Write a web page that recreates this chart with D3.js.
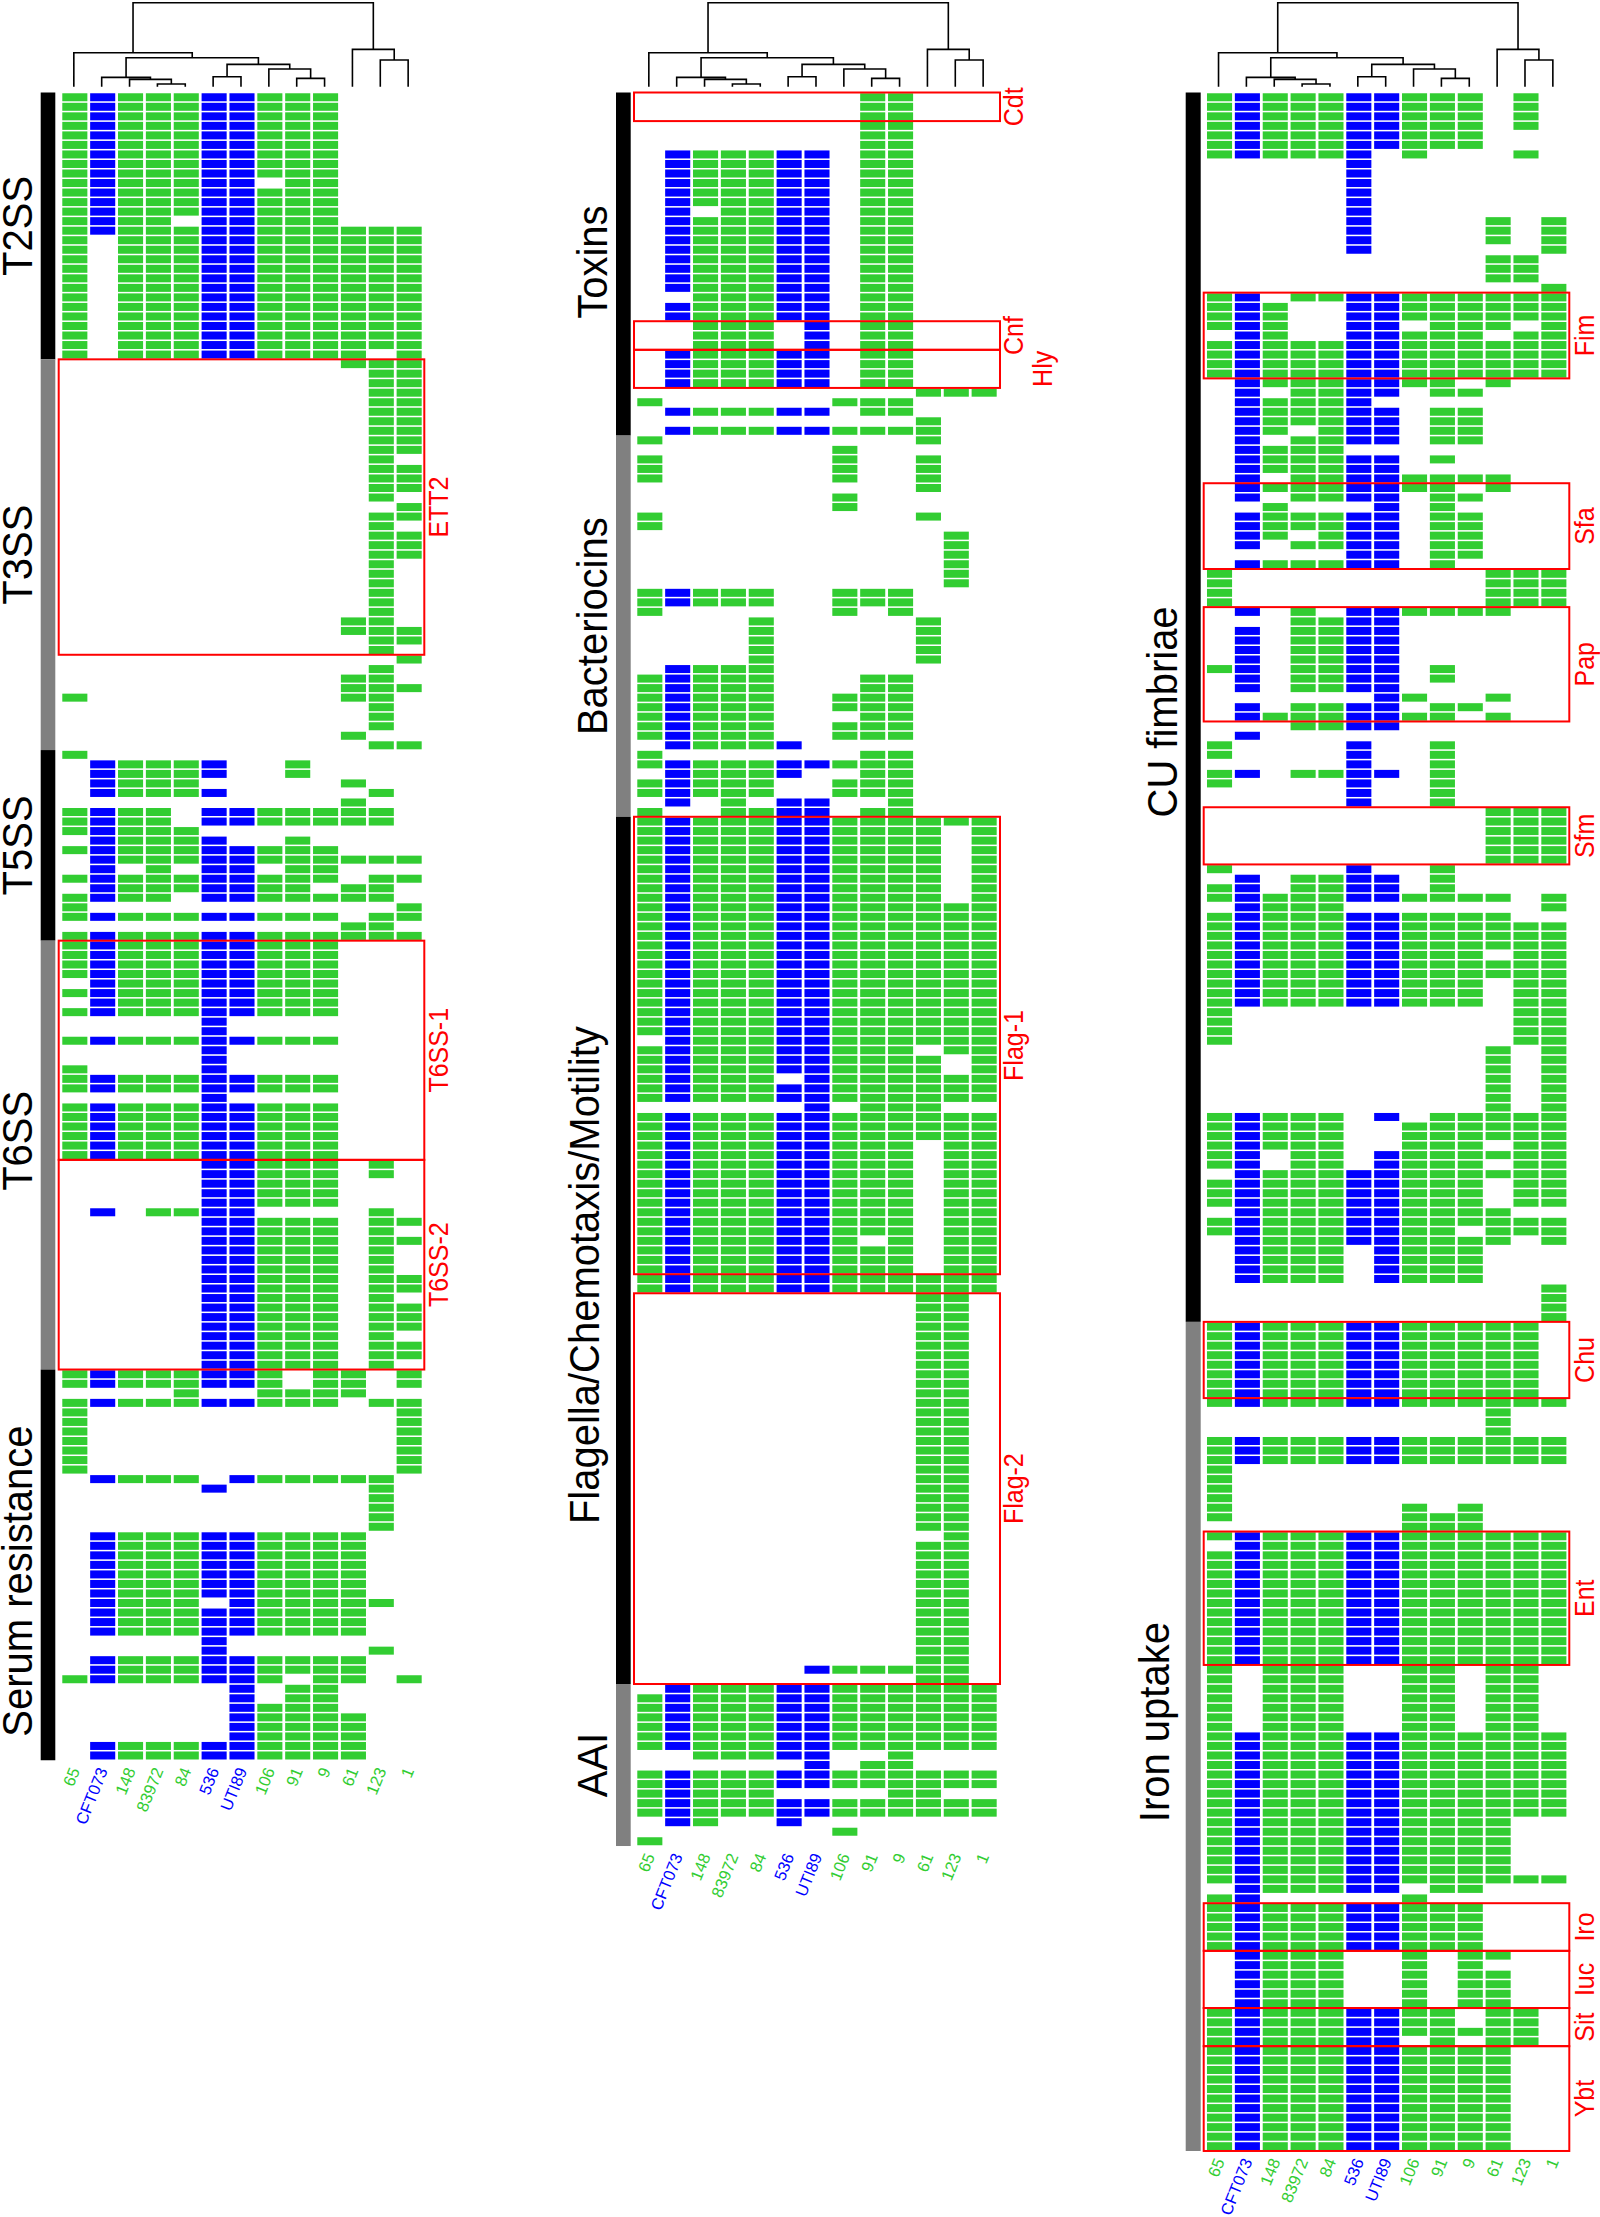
<!DOCTYPE html>
<html>
<head>
<meta charset="utf-8">
<script src="https://cdn.jsdelivr.net/npm/d3@7"></script>
<style>
html,body{margin:0;padding:0;background:#fff}
svg{display:block}
text{font-family:"Liberation Sans",Arial,Helvetica,sans-serif}
</style>
</head>
<body>
<svg id="chart" width="1600" height="2217"></svg>
<script>
// Strains, in dendrogram order. Cell keys: 0-9, a=10, b=11, c=12. "keys*n" = n consecutive identical rows.
const strains = ["65","CFT073","148","83972","84","536","UTI89","106","91","9","61","123","1"];
const highlighted = ["CFT073","536","UTI89"];
const columnKeys = "0123456789abc";

// Presence rows for each panel
const rowsSecretion = [
"0123456789*9","012345689","0123456789*3","012356789","0123456789abc","023456789abc*12","023456789ac","abc","bc*9","b","bc*3","b",
"c","bc","b","bc*3","b*6","ab","abc","bc","b","c","b","ab","abc","0ab","b*3","a","bc","0",
"123458*2","1234a","12345b","a","012356789ab*2","01234","123458","0123456789","123456789abc","135689","0123456789bc","12345678ab","012356789ab","0c","0123456789bc","ab","0123456789abc",
"0123456789*4","123456789","0123456789","123456789","0123456789","5*2","0123456789","5*2","05","0123456789*2","5","0123456789*6",
"56789b*2","56789*3","13456b","56789bc","56789b","56789bc","56789b*3","56789bc*2","56789b","56789bc*3","56789b","56789bc*2","56789b",
"012345679ac*2","4789a","0123456789bc","0c*7","12346789ab","5b","b*4","123456789a*7","12346789ab","123456789a*3","5","5b","123456789a*2","012345679ac","689*2","6789","6789a*3","123456789a*2"
];
const rowsToxins = [
"89*6","12345689*6","1345689","12345689*8","2345689","12345689*2","234689*3","12345689*4","abc","0789","12345689","a","123456789a","0a","7","07a*3","a","7*2","0a","0",
"b*6","01234789*2","079","4a*5","1234","0123489*2","01234789*2","0123489","01234789*2","12345","089","0123456789","1234589","01234789*2","13569","0345689",
"0123456789abc","0123456789ac*8","0123456789abc*14","123456789abc","0123456789bc","0123456789ac*2","012346789abc","0123456789abc*2","689a","0123456789abc*3","0123456789bc*10","012345679bc","0123456789bc*3","0123456789abc*2",
"ab*25","b","ab*13","6789ab","ab","123456789abc","0123456789abc*6","234569","689","0123456789abc*2","012349a","0123456789abc*2","125","7","0"
];
const rowsAdhesion = [
"0123456789b*4","0123456789*2","0123457b","5*6","5ac*3","5c","ab*3","c","013456789abc","01256789abc*2","0125689ac","1256789bc","0123456789abc*4","12345678a","1345689","12345","12345689*2","1245689","1345689","1234","1234568","123456","13456789a",
"12345678a","1345689","268","12345689*2","1245689","1345689","5689","1234568","0abc*4","1356789a","3456","13456*4","0134568","134568","13456","67a","1345689","12345678a","3456","1","058*2","58","0134568","058","58*2","abc*6","058","134568","0134568","0123456789ac","1234c","0123456789a","0123456789abc*3","0123456789bc",
"0123456789abc*2","0123456789bc*3","0bc*4","ac*7","01234689abc","01234789abc*2","01234789bc","01346789abc","01346789bc","123456789abc","0123456789bc*3","123456789a","0123456789abc","012345678abc","123456789ac","12346789*4","c*4",
"0123456789ab*8","0123456789abc","a*3","0123456789abc*3","0*4","079","0789","789","0123456789abc","123456789abc","0123456789abc*12","023478ab*7","0123456789abc*9","0123456789a*6","0123456789abc","12345689","017","0123456789*5","123479a","123479","123479a*4","012345678ab*2","0123456789ab","01234568ab","0123456789a*11"
];

// Functional groups: [name, first row, end row, row of label centre]
const groupsSecretion = [["T2SS",0,28,14],["T3SS",28,69,48.5],["T5SS",69,89,79],["T6SS",89,134,110],["Serum resistance",134,175,156.2]];
const groupsToxins = [["Toxins",0,36,17.8],["Bacteriocins",36,76,56],["Flagella/Chemotaxis/Motility",76,167,124.1],["AAI",167,184,175.5]];
const groupsAdhesion = [["CU fimbriae",0,129,65],["Iron uptake",129,216,171]];

// Outlined gene clusters: [name, first row, end row]
const clustersSecretion = [["ETT2",28,59],["T6SS-1",89,112],["T6SS-2",112,134]];
const clustersToxins = [["Cdt",0,3],["Cnf",24,27],["Hly",27,31],["Flag-1",76,124],["Flag-2",126,167]];
const clustersAdhesion = [["Fim",21,30],["Sfa",41,50],["Pap",54,66],["Sfm",75,81],["Chu",129,137],["Ent",151,165],["Iro",190,195],["Iuc",195,201],["Sit",201,205],["Ybt",205,216]];

// Strain tree: [merge height, left, right]; a number is a leaf (strain index)
const strainTree = [1,
  [0.405, 0,
    [0.345,
      [0.111, 1, [0.087, 2, [0.032, 3, 4]]],
      [0.266, [0.119, 5, 6], [0.21, 7, [0.099, 8, 9]]]
    ]
  ],
  [0.444, 10, [0.317, 11, 12]]
];

const COLORS = {green:"#32cd32", blue:"#0000ff", red:"#ff0000", dark:"#000000", grey:"#808080"};
const STEP_Y = 9.53, TOP = 92.5, STEP_X = 27.86, LABEL_STRETCH = 1.08;

const panels = [
 {rows:rowsSecretion, groups:groupsSecretion, clusters:clustersSecretion, x0:60.9, sideX:[40.7,55.3], boxX:[58.7,424.3], clusterLabelX:448, groupLabelX:{}, groupLabelDefault:31.7},
 {rows:rowsToxins, groups:groupsToxins, clusters:clustersToxins, x0:635.9, sideX:[616,630.7], boxX:[634,1000], clusterLabelX:1023, clusterLabelAlt:{Hly:1051.7}, groupLabelX:{"Flagella/Chemotaxis/Motility":598.7}, groupLabelDefault:606.7},
 {rows:rowsAdhesion, groups:groupsAdhesion, clusters:clustersAdhesion, x0:1205.6, sideX:[1185.7,1200.7], boxX:[1203.7,1569.3], clusterLabelX:1594, groupLabelX:{"Iron uptake":1169}, groupLabelDefault:1176.7}
];

function expand(list){
  const out=[];
  list.forEach(s=>{
    const [k,n]=s.split("*");
    for(let i=0;i<(n?+n:1);i++) out.push(k);
  });
  return out;
}

const svg = d3.select("#chart");
const yTree = d3.scaleLinear().domain([0,1]).range([86.7,2.7]);

panels.forEach(p=>{
  const rows = expand(p.rows);
  const n = rows.length;
  const g = svg.append("g");
  const x = d3.scaleBand().domain(strains).range([p.x0,p.x0+13*STEP_X]).paddingInner(0.1).paddingOuter(0.05);
  const y = d3.scaleBand().domain(d3.range(n)).range([TOP,TOP+n*STEP_Y]).paddingInner(0.16).paddingOuter(0.08);
  const yEdge = d3.scaleLinear().domain([0,n]).range([TOP,TOP+n*STEP_Y]);

  // side bars
  g.append("g").selectAll("rect").data(p.groups).join("rect")
    .attr("x",p.sideX[0]).attr("width",p.sideX[1]-p.sideX[0])
    .attr("y",d=>yEdge(d[1])).attr("height",d=>yEdge(d[2])-yEdge(d[1]))
    .attr("fill",(d,i)=>i%2?COLORS.grey:COLORS.dark);

  // group labels
  g.append("g").selectAll("text").data(p.groups).join("text")
    .attr("transform",d=>`translate(${p.groupLabelX[d[0]]||p.groupLabelDefault},${yEdge(d[3])}) rotate(-90) scale(1,${LABEL_STRETCH})`)
    .attr("text-anchor","middle").attr("font-size",40).attr("fill","#000").text(d=>d[0]);

  // cells
  const cells=[];
  rows.forEach((keys,r)=>{ for(const k of keys){ cells.push({r, s:strains[columnKeys.indexOf(k)]}); } });
  g.append("g").selectAll("rect").data(cells).join("rect")
    .attr("x",d=>x(d.s)).attr("width",x.bandwidth())
    .attr("y",d=>y(d.r)).attr("height",y.bandwidth())
    .attr("fill",d=>highlighted.includes(d.s)?COLORS.blue:COLORS.green);

  // cluster boxes
  g.append("g").selectAll("rect").data(p.clusters).join("rect")
    .attr("x",p.boxX[0]).attr("width",p.boxX[1]-p.boxX[0])
    .attr("y",d=>yEdge(d[1])).attr("height",d=>yEdge(d[2])-yEdge(d[1]))
    .attr("fill","none").attr("stroke",COLORS.red).attr("stroke-width",2);
  g.append("g").selectAll("text").data(p.clusters).join("text")
    .attr("transform",d=>`translate(${(p.clusterLabelAlt&&p.clusterLabelAlt[d[0]])||p.clusterLabelX},${(yEdge(d[1])+yEdge(d[2]))/2}) rotate(-90) scale(1,${LABEL_STRETCH})`)
    .attr("text-anchor","middle").attr("font-size",25).attr("fill",COLORS.red).text(d=>d[0]);

  // tick labels
  const tickY = yEdge(n)+8;
  g.append("g").selectAll("text").data(strains).join("text")
    .attr("transform",d=>`translate(${x(d)+x.bandwidth()/2},${tickY}) rotate(-68)`)
    .attr("text-anchor","end").attr("dy","0.35em").attr("font-size",16.5)
    .attr("fill",d=>highlighted.includes(d)?COLORS.blue:COLORS.green).text(d=>d);

  // dendrogram
  const path=d3.path();
  const leafX=i=>x(strains[i])+x.bandwidth()/2-1;
  (function draw(node){
    if(typeof node==="number") return {x:leafX(node),y:yTree(0)};
    const a=draw(node[1]), b=draw(node[2]), h=yTree(node[0]);
    path.moveTo(a.x,a.y); path.lineTo(a.x,h); path.lineTo(b.x,h); path.lineTo(b.x,b.y);
    return {x:(a.x+b.x)/2,y:h};
  })(strainTree);
  g.append("path").attr("d",path.toString()).attr("fill","none").attr("stroke","#000").attr("stroke-width",1.6);
});
</script>
</body>
</html>
